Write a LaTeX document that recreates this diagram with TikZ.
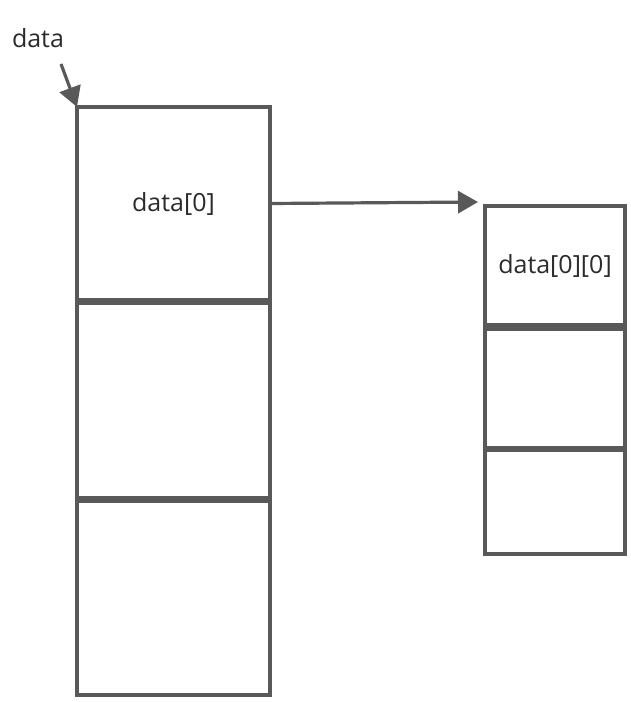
\documentclass[tikz,border=0pt]{standalone}
\usepackage{fontspec}
\setmainfont{Open Sans}
\usetikzlibrary{arrows.meta}
\definecolor{edge}{HTML}{595959}
\definecolor{txt}{HTML}{2B2B2B}
\begin{document}
\begin{tikzpicture}[x=1pt,y=-1pt,
  cell/.style={draw=edge,line width=3.2pt,inner sep=0pt,outer sep=0pt,fill=white,text=txt,font=\fontsize{25}{30}\selectfont},
  lab/.style={text=txt,font=\fontsize{25}{30}\selectfont,inner sep=0pt},
  arr/.style={draw=edge,line width=3.2pt,-{Triangle[length=20pt,width=22pt]}}]
\useasboundingbox[fill=white] (0,0) rectangle (631,702);
% left column
\node[cell,minimum width=193pt,minimum height=193pt] (d0) at (173.5,203.5) {data[0]};
\node[cell,minimum width=193pt,minimum height=195pt] (d1) at (173.5,400.5) {};
\node[cell,minimum width=193pt,minimum height=194pt] (d2) at (173.5,598) {};
% right column
\node[cell,minimum width=140pt,minimum height=119pt] (r0) at (555,265.5) {data[0][0]};
\node[cell,minimum width=140pt,minimum height=119pt] (r1) at (555,388.5) {};
\node[cell,minimum width=140pt,minimum height=104pt] (r2) at (555,502) {};
% label
\node[lab] (lbl) at (38,38) {data};
\coordinate (ls) at (61,64);
\coordinate (tip) at (478,202);
\draw[arr] (ls) -- (d0.north west);
\draw[arr] (d0.east) -- (tip);
\end{tikzpicture}
\end{document}
